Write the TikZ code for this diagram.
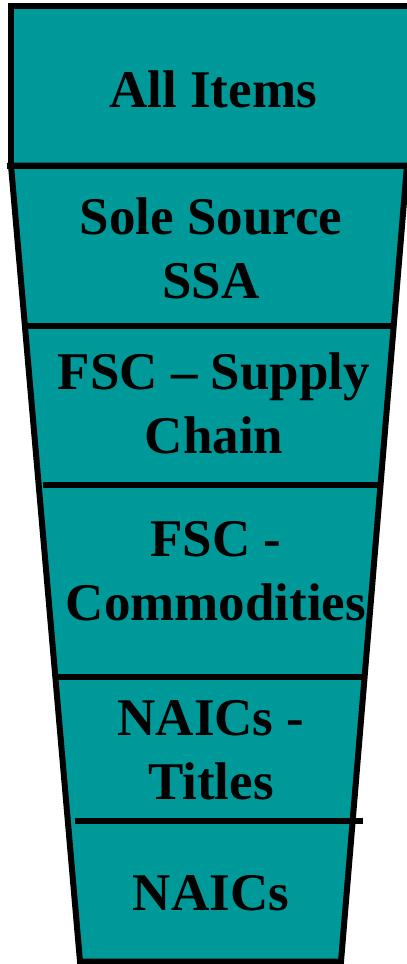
\documentclass[tikz,border=0pt]{standalone}
\usepackage{fontspec}
\setmainfont{Liberation Serif}
\definecolor{tealfill}{RGB}{0,153,153}
\tikzset{
  band/.style={fill=tealfill, draw=black, line width=6pt, line join=miter},
  divider/.style={draw=black, line width=6pt},
  label/.style={font=\fontsize{53}{63.5}\selectfont\bfseries, align=center, anchor=base, inner sep=0pt, text=black}
}
\begin{document}
\begin{tikzpicture}[x=1pt,y=-1pt]
\useasboundingbox (0,0) rectangle (407,964);
% top rectangle
\path[band] (420,5.5) -- (11,5.5) -- (11,165.5) -- (420,165.5);
\fill[tealfill] (14,8.5) rectangle (420,162.5);
% funnel
\path[band] (11,165.5) -- (407,165.5) -- (341,961.5) -- (80,961.5) -- cycle;
\draw[divider] (7,165.5) -- (420,165.5);
% dividers
\coordinate (d1a) at (27,325.5);  \coordinate (d1b) at (395,325.5);
\coordinate (d2a) at (43,485);    \coordinate (d2b) at (379,485);
\coordinate (d3a) at (58,676.5);  \coordinate (d3b) at (363,676.5);
\coordinate (d4a) at (75,821);    \coordinate (d4b) at (363,821);
\draw[divider] (d1a) -- (d1b);
\draw[divider] (d2a) -- (d2b);
\draw[divider] (d3a) -- (d3b);
\draw[divider] (d4a) -- (d4b);
% labels (base anchor = baseline of the last line)
\node[label] (allitems) at (213,107) {All Items};
\node[label] (sole) at (211,298) {Sole Source\\SSA};
\node[label] (fscsc) at (214,453) {FSC -- Supply\\Chain};
\node[label] (fsccom) at (216,620) {FSC -\\Commodities};
\node[label] (naicst) at (211,799) {NAICs -\\Titles};
\node[label] (naics) at (211,910) {NAICs};
\end{tikzpicture}
\end{document}
